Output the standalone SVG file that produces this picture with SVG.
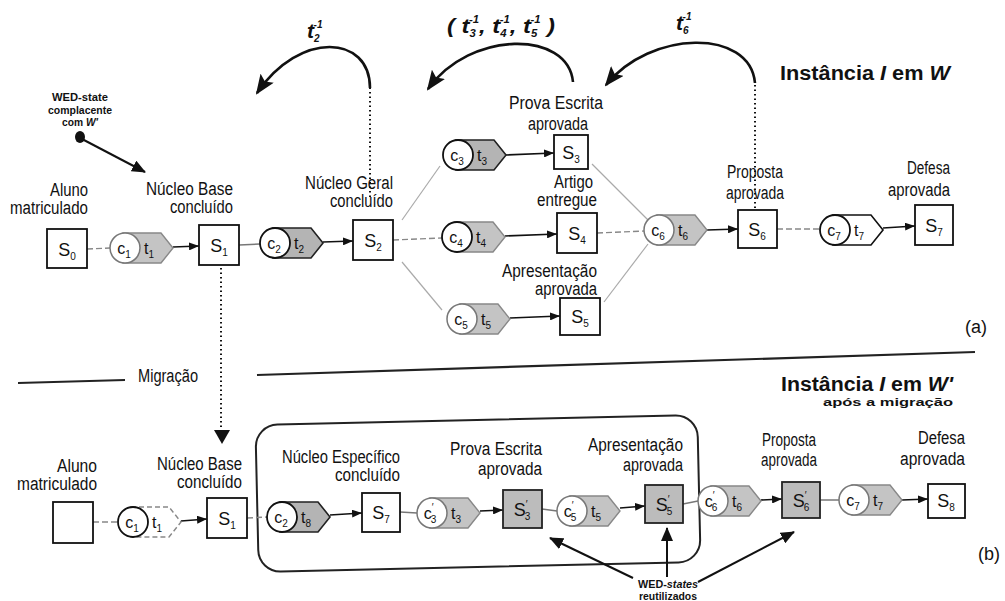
<svg xmlns="http://www.w3.org/2000/svg" xmlns:xlink="http://www.w3.org/1999/xlink" width="1005" height="601" viewBox="0 0 1005 601">
  <style>
    .lbl { font-family: "Liberation Sans Narrow", "Liberation Sans", Arial, sans-serif; font-size: 18px; fill: #111; }
    .sym { font-family: "Liberation Sans", Arial, sans-serif; font-size: 18px; fill: #111; }
    .csym { font-family: "Liberation Sans", Arial, sans-serif; font-size: 16px; fill: #111; }
    .sub { font-size: 10px; }
    .title { font-family: "Liberation Sans", Arial, sans-serif; font-size: 20px; font-weight: bold; fill: #111; }
    .note { font-family: "Liberation Sans", Arial, sans-serif; font-size: 10px; font-weight: bold; fill: #111; }
    .inv { font-family: "Liberation Sans", Arial, sans-serif; font-size: 21px; font-style: italic; font-weight: bold; fill: #111; }
    .box { fill: #fff; stroke: #111; stroke-width: 1.8; }
    .boxg { fill: #bcbcbc; stroke: #222; stroke-width: 1.8; }
    .cdark { fill: #fff; stroke: #111; stroke-width: 1.8; }
    .clight { fill: #fff; stroke: #777; stroke-width: 1.5; }
    .tdark { fill: #b4b4b4; stroke: #222; stroke-width: 1.6; }
    .tlight { fill: #c4c4c4; stroke: #888; stroke-width: 1.4; }
    .twhite { fill: #fff; stroke: #111; stroke-width: 1.6; }
    .tdash { fill: #fff; stroke: #888; stroke-width: 1.4; stroke-dasharray: 5 3; }
    .flow { fill: none; stroke: #111; stroke-width: 1.6; marker-end: url(#ah); }
    .link { fill: none; stroke: #777; stroke-width: 1.5; }
    .dash { fill: none; stroke: #888; stroke-width: 1.4; stroke-dasharray: 6 3; }
    .faint { fill: none; stroke: #aaa; stroke-width: 1.2; }
    .dot { fill: none; stroke: #111; stroke-width: 2; stroke-dasharray: 1.5 3; }
    .arc { fill: none; stroke: #111; stroke-width: 2.6; marker-end: url(#big); }
    .ptr { fill: none; stroke: #111; stroke-width: 2; marker-end: url(#mid); }
    .rule { fill: none; stroke: #222; stroke-width: 2.2; }
  </style>
  <defs>
    <marker id="ah" markerWidth="10" markerHeight="8" refX="10" refY="4" orient="auto" markerUnits="userSpaceOnUse">
      <path d="M0,0 L10,4 L0,8 Z" fill="#111"/>
    </marker>
    <marker id="big" markerWidth="20" markerHeight="16" refX="18" refY="8" orient="auto" markerUnits="userSpaceOnUse">
      <path d="M0,0 L20,8 L0,16 L4,8 Z" fill="#111"/>
    </marker>
    <marker id="mid" markerWidth="14" markerHeight="12" refX="13" refY="6" orient="auto" markerUnits="userSpaceOnUse">
      <path d="M0,0 L14,6 L0,12 Z" fill="#111"/>
    </marker>
    <!-- transition tag drawn behind its condition circle -->
    <path id="tshape" d="M-2,-15 H36 L48,0 L36,15 H-2 Z"/>
  </defs>

  <!-- ===================== (a) Instância I em W ===================== -->
  <text class="title" x="950" y="80" text-anchor="end" textLength="170" lengthAdjust="spacingAndGlyphs">Instância <tspan font-style="italic">I</tspan> em <tspan font-style="italic">W</tspan></text>

  <g id="connectors-a">
    <path class="dash" d="M87,249 L110,248"/>
    <path class="flow" d="M173,247 L199,246"/>
    <path class="link" d="M239,245 L260,244"/>
    <path class="flow" d="M323,242 L353,241"/>
    <path class="dash" d="M393,240 L442,238"/>
    <path class="faint" d="M402,220 L440,166"/>
    <path class="faint" d="M402,262 L442,310"/>
    <path class="flow" d="M506,155 L554,153"/>
    <path class="flow" d="M505,236 L557,234"/>
    <path class="flow" d="M510,318 L560,316"/>
    <path class="faint" d="M592,164 L648,220"/>
    <path class="dash" d="M597,233 L644,231"/>
    <path class="faint" d="M604,302 L648,244"/>
    <path class="flow" d="M707,230 L738,229"/>
    <path class="dash" d="M777,229 L820,229"/>
    <path class="flow" d="M883,228 L915,226"/>
    <!-- undo arcs -->
    <path class="dot" d="M370,197 L370,88"/>
    <path class="arc" d="M370,88 C370,35 300,30 257,93"/>
    <path class="arc" d="M573,82 C568,30 470,30 428,89"/>
    <path class="dot" d="M755,208 L755,83"/>
    <path class="arc" d="M755,83 C750,28 650,30 606,85"/>
    <!-- compliant state pointer -->
    <ellipse cx="80" cy="137" rx="5" ry="6" fill="#111"/>
    <path class="ptr" d="M82,139 L145,172"/>
    <!-- migration -->
    <path class="dot" d="M221,268 L221,430"/>
    <path d="M214,430 L230,430 L222,444 Z" fill="#111"/>
  </g>

  <g id="undo-labels">
    <text class="inv" x="307" y="38">t<tspan class="sub" dy="4">2</tspan><tspan class="sub" dx="-6" dy="-14">-1</tspan></text>
    <text class="inv" x="447" y="33" textLength="108" lengthAdjust="spacingAndGlyphs">( t<tspan class="sub" dy="4">3</tspan><tspan class="sub" dx="-6" dy="-14">-1</tspan><tspan dy="10">, t</tspan><tspan class="sub" dy="4">4</tspan><tspan class="sub" dx="-6" dy="-14">-1</tspan><tspan dy="10">, t</tspan><tspan class="sub" dy="4">5</tspan><tspan class="sub" dx="-6" dy="-14">-1</tspan><tspan dy="10"> )</tspan></text>
    <text class="inv" x="676" y="30">t<tspan class="sub" dy="4">6</tspan><tspan class="sub" dx="-6" dy="-14">-1</tspan></text>
  </g>

  <g id="note-compliant">
    <text class="note" x="80" y="101" text-anchor="middle" textLength="56" lengthAdjust="spacingAndGlyphs">WED-state</text>
    <text class="note" x="80" y="114" text-anchor="middle" textLength="64" lengthAdjust="spacingAndGlyphs">complacente</text>
    <text class="note" x="80" y="126" text-anchor="middle" textLength="36" lengthAdjust="spacingAndGlyphs">com <tspan font-style="italic">W'</tspan></text>
  </g>

  <g id="a-s0">
    <rect class="box" x="47" y="229" width="40" height="39"/>
    <text class="sym" x="67" y="256" text-anchor="middle">S<tspan class="sub" dy="4">0</tspan></text>
    <text class="lbl" x="88" y="196" text-anchor="end" textLength="38" lengthAdjust="spacingAndGlyphs">Aluno</text>
    <text class="lbl" x="88" y="214" text-anchor="end" textLength="78" lengthAdjust="spacingAndGlyphs">matriculado</text>
  </g>
  <g id="a-c1t1">
    <use xlink:href="#tshape" x="125" y="248" class="tlight"/>
    <circle class="clight" cx="125" cy="248" r="15"/>
    <text class="csym" x="124" y="254" text-anchor="middle">c<tspan class="sub" dy="4">1</tspan></text>
    <text class="csym" x="149" y="254" text-anchor="middle">t<tspan class="sub" dy="4">1</tspan></text>
  </g>
  <g id="a-s1">
    <rect class="box" x="199" y="225" width="40" height="40"/>
    <text class="sym" x="219" y="252" text-anchor="middle">S<tspan class="sub" dy="4">1</tspan></text>
    <text class="lbl" x="233" y="195" text-anchor="end" textLength="87" lengthAdjust="spacingAndGlyphs">Núcleo Base</text>
    <text class="lbl" x="233" y="213" text-anchor="end" textLength="63" lengthAdjust="spacingAndGlyphs">concluído</text>
  </g>
  <g id="a-c2t2">
    <use xlink:href="#tshape" x="275" y="243" class="tdark"/>
    <circle class="cdark" cx="275" cy="243" r="15"/>
    <text class="csym" x="274" y="249" text-anchor="middle">c<tspan class="sub" dy="4">2</tspan></text>
    <text class="csym" x="299" y="249" text-anchor="middle">t<tspan class="sub" dy="4">2</tspan></text>
  </g>
  <g id="a-s2">
    <rect class="box" x="353" y="220" width="40" height="40"/>
    <text class="sym" x="373" y="247" text-anchor="middle">S<tspan class="sub" dy="4">2</tspan></text>
    <text class="lbl" x="393" y="189" text-anchor="end" textLength="88" lengthAdjust="spacingAndGlyphs">Núcleo Geral</text>
    <text class="lbl" x="393" y="207" text-anchor="end" textLength="63" lengthAdjust="spacingAndGlyphs">concluído</text>
  </g>
  <g id="a-c3t3">
    <use xlink:href="#tshape" x="458" y="155" class="tdark"/>
    <circle class="cdark" cx="458" cy="155" r="15"/>
    <text class="csym" x="457" y="161" text-anchor="middle">c<tspan class="sub" dy="4">3</tspan></text>
    <text class="csym" x="482" y="161" text-anchor="middle">t<tspan class="sub" dy="4">3</tspan></text>
  </g>
  <g id="a-s3">
    <rect class="box" x="554" y="135" width="34" height="34"/>
    <text class="sym" x="571" y="159" text-anchor="middle">S<tspan class="sub" dy="4">3</tspan></text>
    <text class="lbl" x="556" y="109" text-anchor="middle" textLength="94" lengthAdjust="spacingAndGlyphs">Prova Escrita</text>
    <text class="lbl" x="558" y="130" text-anchor="middle" textLength="60" lengthAdjust="spacingAndGlyphs">aprovada</text>
  </g>
  <g id="a-c4t4">
    <use xlink:href="#tshape" x="457" y="237" class="tlight"/>
    <circle class="cdark" cx="457" cy="237" r="15"/>
    <text class="csym" x="456" y="243" text-anchor="middle">c<tspan class="sub" dy="4">4</tspan></text>
    <text class="csym" x="481" y="243" text-anchor="middle">t<tspan class="sub" dy="4">4</tspan></text>
  </g>
  <g id="a-s4">
    <rect class="box" x="557" y="213" width="40" height="40"/>
    <text class="sym" x="577" y="240" text-anchor="middle">S<tspan class="sub" dy="4">4</tspan></text>
    <text class="lbl" x="593" y="188" text-anchor="end" textLength="39" lengthAdjust="spacingAndGlyphs">Artigo</text>
    <text class="lbl" x="597" y="206" text-anchor="end" textLength="60" lengthAdjust="spacingAndGlyphs">entregue</text>
  </g>
  <g id="a-c5t5">
    <use xlink:href="#tshape" x="462" y="319" class="tlight"/>
    <circle class="clight" cx="462" cy="319" r="15"/>
    <text class="csym" x="461" y="325" text-anchor="middle">c<tspan class="sub" dy="4">5</tspan></text>
    <text class="csym" x="486" y="325" text-anchor="middle">t<tspan class="sub" dy="4">5</tspan></text>
  </g>
  <g id="a-s5">
    <rect class="box" x="560" y="298" width="40" height="37"/>
    <text class="sym" x="580" y="323" text-anchor="middle">S<tspan class="sub" dy="4">5</tspan></text>
    <text class="lbl" x="597" y="277" text-anchor="end" textLength="95" lengthAdjust="spacingAndGlyphs">Apresentação</text>
    <text class="lbl" x="597" y="295" text-anchor="end" textLength="62" lengthAdjust="spacingAndGlyphs">aprovada</text>
  </g>
  <g id="a-c6t6">
    <use xlink:href="#tshape" x="659" y="230" class="tlight"/>
    <circle class="clight" cx="659" cy="230" r="15"/>
    <text class="csym" x="658" y="236" text-anchor="middle">c<tspan class="sub" dy="4">6</tspan></text>
    <text class="csym" x="683" y="236" text-anchor="middle">t<tspan class="sub" dy="4">6</tspan></text>
  </g>
  <g id="a-s6">
    <rect class="box" x="738" y="210" width="39" height="38"/>
    <text class="sym" x="757" y="236" text-anchor="middle">S<tspan class="sub" dy="4">6</tspan></text>
    <text class="lbl" x="755" y="178" text-anchor="middle" textLength="56" lengthAdjust="spacingAndGlyphs">Proposta</text>
    <text class="lbl" x="755" y="199" text-anchor="middle" textLength="58" lengthAdjust="spacingAndGlyphs">aprovada</text>
  </g>
  <g id="a-c7t7">
    <use xlink:href="#tshape" x="835" y="230" class="twhite"/>
    <circle class="cdark" cx="835" cy="230" r="15"/>
    <text class="csym" x="834" y="236" text-anchor="middle">c<tspan class="sub" dy="4">7</tspan></text>
    <text class="csym" x="859" y="236" text-anchor="middle">t<tspan class="sub" dy="4">7</tspan></text>
  </g>
  <g id="a-s7">
    <rect class="box" x="915" y="205" width="38" height="40"/>
    <text class="sym" x="934" y="232" text-anchor="middle">S<tspan class="sub" dy="4">7</tspan></text>
    <text class="lbl" x="950" y="174" text-anchor="end" textLength="43" lengthAdjust="spacingAndGlyphs">Defesa</text>
    <text class="lbl" x="950" y="196" text-anchor="end" textLength="62" lengthAdjust="spacingAndGlyphs">aprovada</text>
  </g>
  <text class="sym" x="987" y="333" text-anchor="end">(a)</text>

  <!-- ===================== separator ===================== -->
  <g id="separator">
    <path class="rule" d="M18,383 L125,380"/>
    <path class="rule" d="M257,375 L975,352"/>
    <text class="lbl" x="138" y="382" textLength="60" lengthAdjust="spacingAndGlyphs">Migração</text>
  </g>

  <!-- ===================== (b) Instância I em W' ===================== -->
  <text class="title" x="953" y="391" text-anchor="end" textLength="172" lengthAdjust="spacingAndGlyphs">Instância <tspan font-style="italic">I</tspan> em <tspan font-style="italic">W'</tspan></text>
  <text class="note" x="953" y="406" text-anchor="end" font-size="13px" textLength="130" lengthAdjust="spacingAndGlyphs">após a migração</text>

  <g id="group-new">
    <rect x="257" y="420" width="442" height="147" rx="22" fill="none" stroke="#222" stroke-width="2" transform="rotate(-1.3 478 493)"/>
  </g>

  <g id="connectors-b">
    <path class="dash" d="M93,522 L118,522"/>
    <path class="flow" d="M181,521 L207,519"/>
    <path class="dash" d="M247,518 L267,517"/>
    <path class="flow" d="M330,515 L362,513"/>
    <path class="link" d="M400,512 L417,513"/>
    <path class="flow" d="M480,511 L503,510"/>
    <path class="link" d="M542,509 L557,511"/>
    <path class="flow" d="M620,508 L645,506"/>
    <path class="link" d="M683,504 L698,501"/>
    <path class="flow" d="M761,500 L782,499"/>
    <path class="link" d="M820,500 L839,500"/>
    <path class="flow" d="M902,500 L928,499"/>
    <!-- reused states pointers -->
    <path class="ptr" d="M633,578 L550,538"/>
    <path class="ptr" d="M667,577 L667,528"/>
    <path class="ptr" d="M698,582 L794,532"/>
  </g>

  <g id="b-s0">
    <rect class="box" x="53" y="502" width="40" height="41" stroke="#666"/>
    <text class="lbl" x="97" y="472" text-anchor="end" textLength="40" lengthAdjust="spacingAndGlyphs">Aluno</text>
    <text class="lbl" x="97" y="490" text-anchor="end" textLength="80" lengthAdjust="spacingAndGlyphs">matriculado</text>
  </g>
  <g id="b-c1t1">
    <use xlink:href="#tshape" x="133" y="522" class="tdash"/>
    <circle class="cdark" cx="133" cy="522" r="15"/>
    <text class="csym" x="132" y="528" text-anchor="middle">c<tspan class="sub" dy="4">1</tspan></text>
    <text class="csym" x="157" y="528" text-anchor="middle">t<tspan class="sub" dy="4">1</tspan></text>
  </g>
  <g id="b-s1">
    <rect class="box" x="207" y="498" width="40" height="40"/>
    <text class="sym" x="227" y="525" text-anchor="middle">S<tspan class="sub" dy="4">1</tspan></text>
    <text class="lbl" x="242" y="470" text-anchor="end" textLength="85" lengthAdjust="spacingAndGlyphs">Núcleo Base</text>
    <text class="lbl" x="242" y="488" text-anchor="end" textLength="65" lengthAdjust="spacingAndGlyphs">concluído</text>
  </g>
  <g id="b-c2t8">
    <use xlink:href="#tshape" x="282" y="517" class="tdark"/>
    <circle class="cdark" cx="282" cy="517" r="15"/>
    <text class="csym" x="281" y="523" text-anchor="middle">c<tspan class="sub" dy="4">2</tspan></text>
    <text class="csym" x="306" y="523" text-anchor="middle">t<tspan class="sub" dy="4">8</tspan></text>
  </g>
  <g id="b-s7">
    <rect class="box" x="362" y="493" width="38" height="39"/>
    <text class="sym" x="381" y="519" text-anchor="middle">S<tspan class="sub" dy="4">7</tspan></text>
    <text class="lbl" x="400" y="463" text-anchor="end" textLength="118" lengthAdjust="spacingAndGlyphs">Núcleo Específico</text>
    <text class="lbl" x="400" y="481" text-anchor="end" textLength="65" lengthAdjust="spacingAndGlyphs">concluído</text>
  </g>
  <g id="b-c3t3">
    <use xlink:href="#tshape" x="432" y="513" class="tlight"/>
    <circle class="clight" cx="432" cy="513" r="15"/>
    <text class="csym" x="430" y="519" text-anchor="middle">c<tspan class="sub" dy="-8">′</tspan><tspan class="sub" dx="-3" dy="12">3</tspan></text>
    <text class="csym" x="456" y="519" text-anchor="middle">t<tspan class="sub" dy="4">3</tspan></text>
  </g>
  <g id="b-s3">
    <rect class="boxg" x="503" y="490" width="39" height="38"/>
    <text class="sym" x="522" y="516" text-anchor="middle">S<tspan class="sub" dy="-8">′</tspan><tspan class="sub" dx="-3" dy="12">3</tspan></text>
    <text class="lbl" x="542" y="455" text-anchor="end" textLength="92" lengthAdjust="spacingAndGlyphs">Prova Escrita</text>
    <text class="lbl" x="542" y="475" text-anchor="end" textLength="64" lengthAdjust="spacingAndGlyphs">aprovada</text>
  </g>
  <g id="b-c5t5">
    <use xlink:href="#tshape" x="572" y="511" class="tlight"/>
    <circle class="clight" cx="572" cy="511" r="15"/>
    <text class="csym" x="570" y="517" text-anchor="middle">c<tspan class="sub" dy="-8">′</tspan><tspan class="sub" dx="-3" dy="12">5</tspan></text>
    <text class="csym" x="596" y="517" text-anchor="middle">t<tspan class="sub" dy="4">5</tspan></text>
  </g>
  <g id="b-s5">
    <rect class="boxg" x="645" y="485" width="38" height="38"/>
    <text class="sym" x="664" y="511" text-anchor="middle">S<tspan class="sub" dy="-8">′</tspan><tspan class="sub" dx="-3" dy="12">5</tspan></text>
    <text class="lbl" x="683" y="451" text-anchor="end" textLength="95" lengthAdjust="spacingAndGlyphs">Apresentação</text>
    <text class="lbl" x="683" y="471" text-anchor="end" textLength="60" lengthAdjust="spacingAndGlyphs">aprovada</text>
  </g>
  <g id="b-c6t6">
    <use xlink:href="#tshape" x="713" y="501" class="tlight"/>
    <circle class="clight" cx="713" cy="501" r="15"/>
    <text class="csym" x="711" y="507" text-anchor="middle">c<tspan class="sub" dy="-8">′</tspan><tspan class="sub" dx="-3" dy="12">6</tspan></text>
    <text class="csym" x="737" y="507" text-anchor="middle">t<tspan class="sub" dy="4">6</tspan></text>
  </g>
  <g id="b-s6">
    <rect class="boxg" x="782" y="482" width="38" height="36"/>
    <text class="sym" x="801" y="507" text-anchor="middle">S<tspan class="sub" dy="-8">′</tspan><tspan class="sub" dx="-3" dy="12">6</tspan></text>
    <text class="lbl" x="789" y="446" text-anchor="middle" textLength="54" lengthAdjust="spacingAndGlyphs">Proposta</text>
    <text class="lbl" x="789" y="466" text-anchor="middle" textLength="56" lengthAdjust="spacingAndGlyphs">aprovada</text>
  </g>
  <g id="b-c7t7">
    <use xlink:href="#tshape" x="854" y="500" class="tlight"/>
    <circle class="clight" cx="854" cy="500" r="15"/>
    <text class="csym" x="853" y="506" text-anchor="middle">c<tspan class="sub" dy="4">7</tspan></text>
    <text class="csym" x="878" y="506" text-anchor="middle">t<tspan class="sub" dy="4">7</tspan></text>
  </g>
  <g id="b-s8">
    <rect class="box" x="928" y="484" width="37" height="34"/>
    <text class="sym" x="946" y="507" text-anchor="middle">S<tspan class="sub" dy="4">8</tspan></text>
    <text class="lbl" x="965" y="444" text-anchor="end" textLength="47" lengthAdjust="spacingAndGlyphs">Defesa</text>
    <text class="lbl" x="965" y="465" text-anchor="end" textLength="65" lengthAdjust="spacingAndGlyphs">aprovada</text>
  </g>

  <g id="note-reused">
    <text class="note" x="668" y="588" text-anchor="middle" textLength="60" lengthAdjust="spacingAndGlyphs">WED-<tspan font-style="italic">states</tspan></text>
    <text class="note" x="668" y="600" text-anchor="middle" textLength="58" lengthAdjust="spacingAndGlyphs">reutilizados</text>
  </g>
  <text class="sym" x="1000" y="560" text-anchor="end">(b)</text>
</svg>
